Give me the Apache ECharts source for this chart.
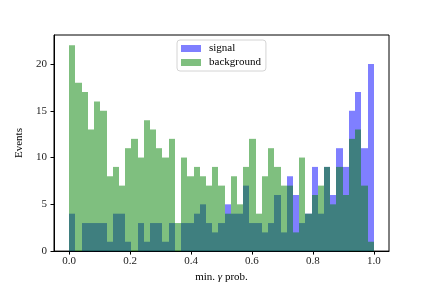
<!DOCTYPE html>
<html>
<head>
<meta charset="utf-8">
<script src="https://cdn.jsdelivr.net/npm/echarts@6/dist/echarts.min.js"></script>
<style>
html,body{margin:0;padding:0;background:#fff}
#main{width:432px;height:288px}
</style>
</head>
<body>
<div id="main"></div>
<script>
// 49 equal bins between 0 and 1
const binCount = 49
const signal = [4,0,3,3,3,3,1,4,4,1, 0,3,1,3,3,1,3,0,3,3, 4,5,3,2,3,5,4,4,7,3, 3,2,3,6,2,8,6,3,4,9, 4,9,6,11,9,15,17,11,20]
const background = [22,18,17,13,16,15,8,9,7,11, 12,10,14,13,11,10,12,3,10,8, 9,8,7,9,7,4,8,5,9,12, 4,8,11,9,7,7,2,10,4,6, 7,9,5,9,6,12,13,7,1]
const xTicks = [0, 0.2, 0.4, 0.6, 0.8, 1.0]
const yTicks = [0, 5, 10, 15, 20]

const font = 'Liberation Serif'
const toBins = arr => arr.map((v, i) => [i / binCount, (i + 1) / binCount, v])

// snap edges to whole pixels so neighbouring bins meet without seams
const renderBar = (params, api) => {
  const p0 = api.coord([api.value(0), api.value(2)])
  const p1 = api.coord([api.value(1), 0])
  const x0 = Math.round(p0[0]), x1 = Math.round(p1[0])
  return {
    type: 'rect',
    shape: { x: x0, y: p0[1], width: x1 - x0, height: p1[1] - p0[1] },
    style: api.style()
  }
}

var myChart = echarts.init(document.getElementById('main'))
myChart.setOption({
  animation: false,
  grid: {
    left: 54, right: 43, top: 35, bottom: 36,
    show: true, borderColor: '#000', borderWidth: 1
  },
  legend: {
    data: ['signal', 'background'],
    orient: 'vertical',
    left: 177, top: 40,
    padding: [3, 5, 3, 4],
    itemWidth: 20, itemHeight: 7, itemGap: 3,
    icon: 'rect',
    borderColor: '#d4d4d4', borderWidth: 1, borderRadius: 3,
    textStyle: { fontFamily: font, fontSize: 11, lineHeight: 11, color: '#000', padding: [0, 0, 0, 3] }
  },
  xAxis: {
    type: 'value',
    min: -0.05, max: 1.05,
    name: 'min. {g|γ} prob.',
    nameLocation: 'middle',
    nameGap: 18,
    nameTextStyle: {
      fontFamily: font, fontSize: 11, color: '#000',
      rich: { g: { fontFamily: font, fontSize: 11, fontStyle: 'italic', color: '#000' } }
    },
    axisLine: { onZero: false, lineStyle: { color: '#000', width: 1 } },
    axisTick: { customValues: xTicks, length: 3.5, lineStyle: { color: '#000' } },
    axisLabel: {
      customValues: xTicks, margin: 5,
      fontFamily: font, fontSize: 11, color: '#222',
      formatter: v => v.toFixed(1)
    },
    splitLine: { show: false }
  },
  yAxis: {
    type: 'value',
    min: 0, max: 23.1,
    name: 'Events',
    nameLocation: 'middle',
    nameGap: 21,
    nameTextStyle: { fontFamily: font, fontSize: 11, color: '#000' },
    axisLine: { show: true, onZero: false, lineStyle: { color: '#000', width: 1 } },
    axisTick: { show: true, customValues: yTicks, length: 3.5, lineStyle: { color: '#000' } },
    axisLabel: { customValues: yTicks, margin: 7, fontFamily: font, fontSize: 11, color: '#222' },
    splitLine: { show: false }
  },
  series: [
    {
      name: 'signal',
      type: 'custom',
      renderItem: renderBar,
      itemStyle: { color: 'rgba(0,0,255,0.5)' },
      encode: { x: [0, 1], y: 2 },
      data: toBins(signal)
    },
    {
      name: 'background',
      type: 'custom',
      renderItem: renderBar,
      itemStyle: { color: 'rgba(0,128,0,0.5)' },
      encode: { x: [0, 1], y: 2 },
      data: toBins(background)
    }
  ]
})
</script>
</body>
</html>
